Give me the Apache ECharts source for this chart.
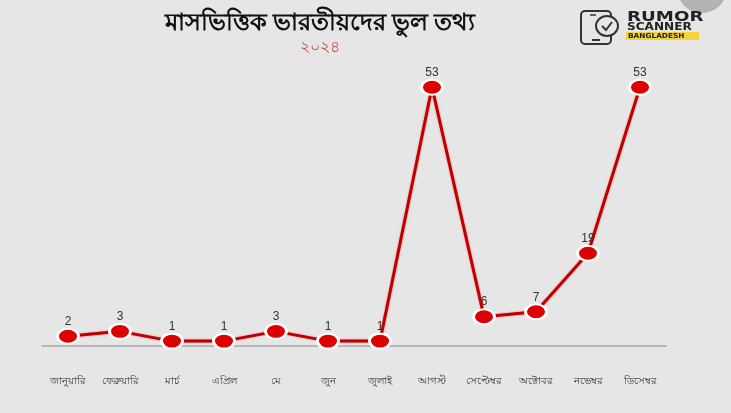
<!DOCTYPE html>
<html><head><meta charset="utf-8">
<script src="https://cdn.jsdelivr.net/npm/echarts@6/dist/echarts.min.js"></script>
<style>html,body{margin:0;padding:0;background:#e6e6e6}#c{width:731px;height:413px}</style>
</head><body><div id="c"></div>
<script>
const months = ['জানুয়ারি','ফেব্রুয়ারি','মার্চ','এপ্রিল','মে','জুন','জুলাই','আগস্ট','সেপ্টেম্বর','অক্টোবর','নভেম্বর','ডিসেম্বর'];
const values = [2,3,1,1,3,1,1,53,6,7,19,53];
const titleText = 'মাসভিত্তিক ভারতীয়দের ভুল তথ্য';
const subText = '২০২৪';

const chart = echarts.init(document.getElementById('c'));
chart.setOption({
  backgroundColor: '#e6e6e6',
  title: {
    text: titleText, subtext: subText, left: 315, textAlign: 'center', top: 6, itemGap: 4,
    textStyle: {fontSize: 24, fontWeight: 'bold', color: '#111', fontFamily: 'Noto Sans, sans-serif'},
    subtextStyle: {fontSize: 16, color: '#c0504d', fontFamily: 'Noto Sans, sans-serif'}
  },
  grid: {left: 42, right: 65, top: 53, bottom: 67},
  xAxis: {
    type: 'category', data: months, boundaryGap: true,
    axisLine: {lineStyle: {color: '#a8a8a8', width: 1.5}},
    axisTick: {show: false},
    axisLabel: {color: '#333', fontSize: 10, margin: 30, interval: 0}
  },
  yAxis: {type: 'value', min: 0, max: 60, show: false, splitLine: {show: false}},
  series: [{
    type: 'line', data: values,
    lineStyle: {color: '#c00000', width: 3, shadowColor: 'rgba(255,60,60,0.6)', shadowBlur: 2},
    symbol: 'circle', symbolSize: [21, 15],
    itemStyle: {color: '#dd0000', borderColor: '#fff', borderWidth: 2.5},
    label: {show: true, position: 'top', distance: 0, color: '#333', fontSize: 12},
    z: 3
  }],
  graphic: [
    {type: 'circle', shape: {cx: 702, cy: -12, r: 25}, style: {fill: '#b3b3b3'}},
    {type: 'rect', shape: {x: 581, y: 11, width: 30, height: 33, r: 4}, style: {fill: 'none', stroke: '#333', lineWidth: 2}},
    {type: 'line', shape: {x1: 592, y1: 40, x2: 600, y2: 40}, style: {stroke: '#333', lineWidth: 2}},
    {type: 'line', shape: {x1: 590, y1: 15, x2: 596, y2: 15}, style: {stroke: '#333', lineWidth: 1.5}},
    {type: 'ellipse', shape: {cx: 607, cy: 26, rx: 11, ry: 10}, style: {fill: '#e6e6e6', stroke: '#333', lineWidth: 2}},
    {type: 'polyline', shape: {points: [[602, 26], [606, 30], [612, 22]]}, style: {stroke: '#333', lineWidth: 2, fill: 'none'}},
    {type: 'text', x: 627, y: 10, scaleX: 1.3, style: {x: 0, y: 0, text: 'RUMOR', font: 'bold 14px "DejaVu Sans", sans-serif', fill: '#222'}},
    {type: 'text', x: 627, y: 22, scaleX: 1.1, style: {x: 0, y: 0, text: 'SCANNER', font: 'bold 11px "DejaVu Sans", sans-serif', fill: '#222'}},
    {type: 'rect', shape: {x: 626, y: 32, width: 73, height: 8}, style: {fill: '#f5d33a'}},
    {type: 'text', x: 628, y: 32.5, scaleX: 1.05, style: {x: 0, y: 0, text: 'BANGLADESH', font: 'bold 7px "DejaVu Sans", sans-serif', fill: '#222'}}
  ]
});
</script></body></html>
